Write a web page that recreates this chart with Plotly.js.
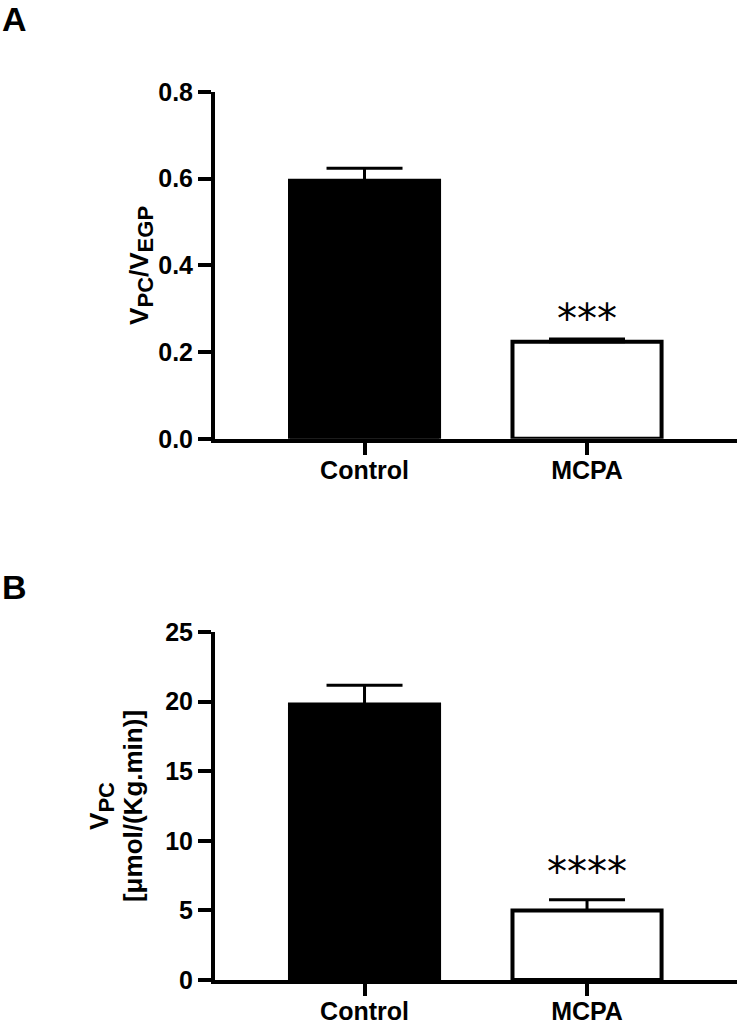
<!DOCTYPE html>
<html>
<head>
<meta charset="utf-8">
<script src="https://cdn.plot.ly/plotly-3.0.1.min.js"></script>
<style>
  html, body { margin: 0; padding: 0; background: #fff; }
  #chart { width: 737px; height: 1020px; }
</style>
</head>
<body>
<div id="chart"></div>
<script>
// ---- Data ----
const categories = ['Control', 'MCPA'];
const barColors = ['#000000', '#ffffff'];

// Panel A: V_PC / V_EGP
const ratioMean = [0.595, 0.224];
const ratioErr = [0.029, 0.006];
const ratioTicks = [0, 0.2, 0.4, 0.6, 0.8];
const ratioSig = ['', '***'];

// Panel B: V_PC [µmol/(Kg.min)]
const vpcMean = [19.8, 5.0];
const vpcErr = [1.37, 0.76];
const vpcTicks = [0, 5, 10, 15, 20, 25];
const vpcSig = ['', '****'];

const panelLetters = ['A', 'B'];

// ---- Layout constants ----
const W = 737, H = 1020;
const M = { l: 215, r: 0, t: 92, b: 39.5 };
const plotH = H - M.t - M.b;
const plotW = W - M.l - M.r;
const pyToPaper = py => (H - M.b - py) / plotH;
const pxToPaper = px => (px - M.l) / plotW;

const FONT = 'Liberation Sans, Arial, Helvetica, sans-serif';
const SUB = s => '<sub><span style="font-size:22px">' + s + '</span></sub>';

function barTrace(means, errs, xa, ya) {
  return {
    type: 'bar',
    x: categories,
    y: means,
    xaxis: xa, yaxis: ya,
    width: 0.67,
    marker: { color: barColors, line: { color: '#000', width: 4 } },
    error_y: {
      type: 'data', symmetric: false,
      array: errs, arrayminus: errs.map(() => 0),
      color: '#000', thickness: 3, width: 38
    },
    showlegend: false,
    hoverinfo: 'x+y'
  };
}

const data = [
  barTrace(ratioMean, ratioErr, 'x', 'y'),
  barTrace(vpcMean, vpcErr, 'x2', 'y2')
];

const xCommon = {
  type: 'category',
  range: [-0.672, 1.674],
  showline: true, linewidth: 4, linecolor: '#000',
  ticks: 'outside', ticklen: 12, tickwidth: 4, tickcolor: '#000',
  ticklabelstandoff: -6,
  tickfont: { family: FONT, size: 25, color: '#000', weight: 'bold' },
  showgrid: false, zeroline: false, fixedrange: true
};
const yCommon = {
  showline: true, linewidth: 4, linecolor: '#000',
  ticks: 'outside', ticklen: 13, tickwidth: 4, tickcolor: '#000',
  tickfont: { family: FONT, size: 25, color: '#000', weight: 'bold' },
  showgrid: false, zeroline: false, fixedrange: true
};

const sigAnn = (sigs, means, errs, xa, ya, shift) => sigs.map((s, i) => ({
  text: s, x: categories[i], y: means[i] + errs[i], xref: xa, yref: ya,
  xanchor: 'center', yanchor: 'middle', yshift: shift, showarrow: false,
  font: { family: 'DejaVu Sans, sans-serif', size: 40, color: '#000' }
})).filter(a => a.text);

const layout = {
  width: W, height: H,
  margin: M,
  paper_bgcolor: '#fff', plot_bgcolor: '#fff',
  bargap: 0,
  xaxis: Object.assign({}, xCommon, { anchor: 'y' }),
  yaxis: Object.assign({}, yCommon, {
    domain: [pyToPaper(439), 1],
    range: [0, 0.8], tickvals: ratioTicks, tickformat: '.1f',
    title: { text: 'V' + SUB('PC') + '/V' + SUB('EGP'), standoff: 2,
             font: { family: FONT, size: 26, color: '#000', weight: 'bold' } }
  }),
  xaxis2: Object.assign({}, xCommon, { anchor: 'y2' }),
  yaxis2: Object.assign({}, yCommon, {
    domain: [0, pyToPaper(632.3)],
    range: [0, 25], tickvals: vpcTicks,
    title: { text: 'V' + SUB('PC') + '<br>[μmol/(Kg.min)]', standoff: 16,
             font: { family: FONT, size: 26, color: '#000', weight: 'bold' } }
  }),
  annotations: [
    ...sigAnn(ratioSig, ratioMean, ratioErr, 'x', 'y', 20),
    ...sigAnn(vpcSig, vpcMean, vpcErr, 'x2', 'y2', 28),
    { text: panelLetters[0], xref: 'paper', yref: 'paper', x: pxToPaper(0), y: pyToPaper(19),
      xanchor: 'left', yanchor: 'middle', showarrow: false,
      font: { family: FONT, size: 34, color: '#000', weight: 'bold' } },
    { text: panelLetters[1], xref: 'paper', yref: 'paper', x: pxToPaper(0), y: pyToPaper(587),
      xanchor: 'left', yanchor: 'middle', showarrow: false,
      font: { family: FONT, size: 34, color: '#000', weight: 'bold' } }
  ]
};

Plotly.newPlot('chart', data, layout, { displayModeBar: false, staticPlot: true });
</script>
</body>
</html>
